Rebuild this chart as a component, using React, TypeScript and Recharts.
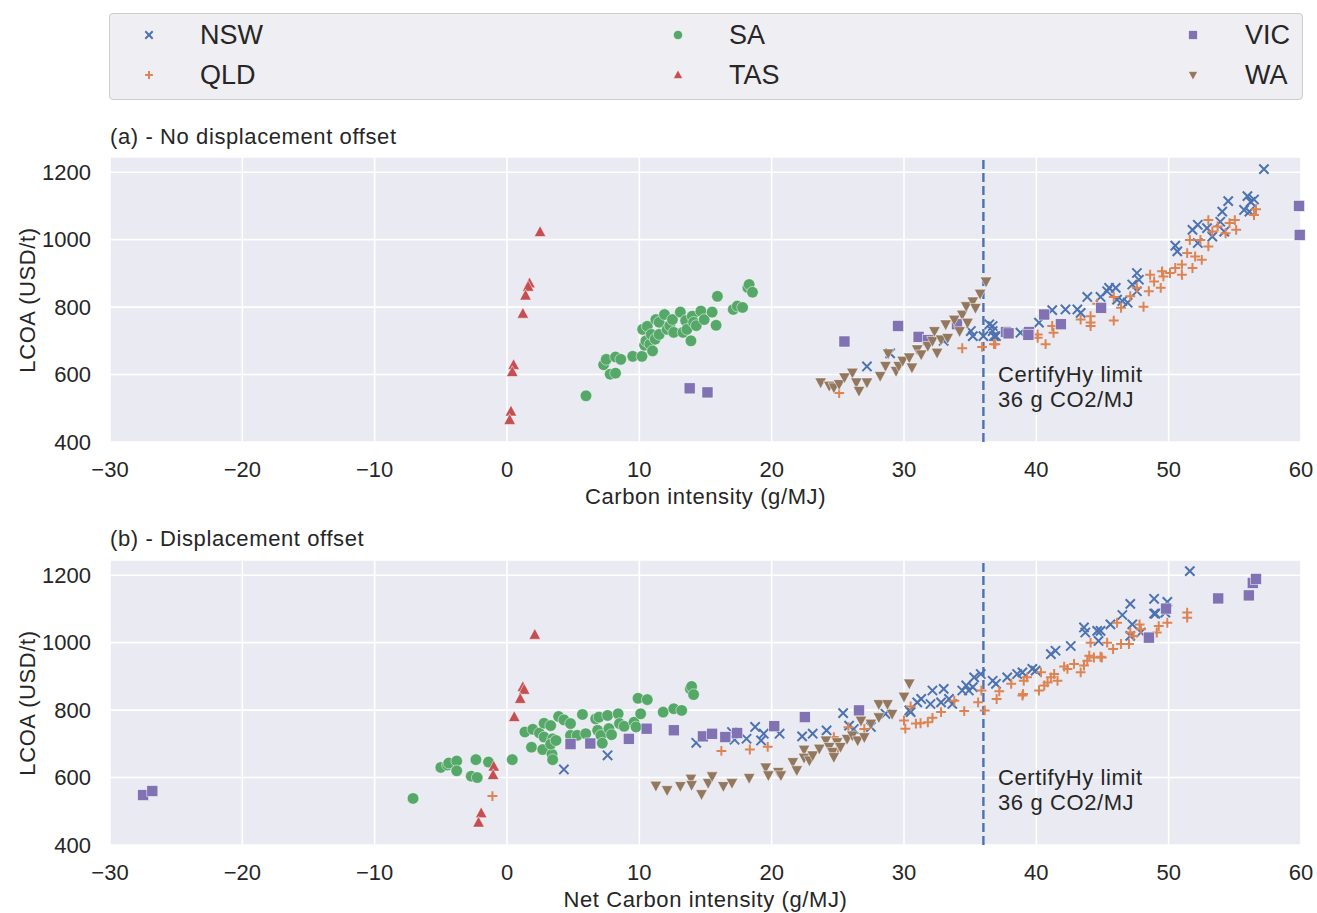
import React from 'react';
import { ScatterChart, Scatter, XAxis, YAxis, CartesianGrid, ReferenceLine } from 'recharts';

// state -> [carbon intensity (g/MJ), LCOA (USD/t)]
type Pt = [number, number];

const NSW_A: Pt[] = [
  [27.2, 624], [28.95, 663], [33.0, 700], [35.05, 729], [35.2, 714], [36.0, 714], [36.45, 749], [36.7, 729],
  [36.95, 714], [36.7, 744], [36.8, 714], [38.8, 724], [40.2, 754], [41.2, 791], [42.2, 793], [43.1, 793],
  [43.35, 783], [43.85, 830], [44.85, 830], [45.35, 847], [45.5, 857], [46.0, 857], [46.1, 822], [46.5, 818],
  [46.9, 813], [47.25, 867], [47.6, 901], [47.75, 881], [47.6, 847], [50.5, 982], [50.65, 965], [51.8, 1029],
  [52.2, 1044], [52.2, 990], [52.9, 1034], [53.3, 1009], [53.9, 1053], [54.05, 1083], [54.2, 1024], [54.5, 1114],
  [55.7, 1088], [55.95, 1129], [56.2, 1112], [56.1, 1083], [56.45, 1119], [57.2, 1209],
];
const QLD_A: Pt[] = [
  [25.1, 545], [34.4, 678], [35.9, 682], [36.8, 690], [36.9, 690], [40.1, 719], [40.1, 709], [40.7, 690],
  [41.2, 744], [41.3, 724], [43.35, 763], [44.1, 773], [44.1, 754], [44.1, 744], [44.6, 810], [45.85, 760],
  [45.85, 830], [46.4, 798], [47.1, 832], [47.6, 857], [48.1, 801], [48.5, 847], [48.6, 896], [48.9, 876],
  [49.4, 857], [49.5, 906], [49.6, 891], [50.1, 901], [50.5, 916], [51.0, 896], [51.0, 926], [51.4, 960],
  [51.6, 999], [51.8, 916], [52.0, 950], [52.4, 999], [52.5, 940], [53.0, 1058], [53.0, 980], [53.3, 1024],
  [53.7, 1039], [54.3, 1019], [54.6, 1049], [55.0, 1058], [55.1, 1029], [56.45, 1073], [56.6, 1090],
];
const SA_A: Pt[] = [
  [5.97, 537], [7.3, 629], [7.5, 645], [7.8, 601], [8.2, 604], [8.2, 652], [8.6, 645], [9.5, 654],
  [10.2, 654], [10.25, 734], [10.4, 687], [10.5, 700], [10.6, 743], [10.8, 690], [10.9, 719], [11.0, 670],
  [11.2, 705], [11.25, 763], [11.5, 755], [11.5, 719], [11.9, 778], [12.1, 734], [12.3, 745], [12.5, 763],
  [12.6, 725], [13.1, 785], [13.3, 725], [13.5, 760], [13.6, 734], [13.9, 700], [14.0, 773], [14.1, 755],
  [14.3, 745], [14.65, 788], [14.9, 763], [15.5, 785], [15.8, 746], [15.9, 832], [17.1, 793], [17.4, 803],
  [17.8, 799], [18.2, 858], [18.3, 867], [18.55, 844],
];
const TAS_A: Pt[] = [
  [2.5, 1022], [1.7, 870], [1.6, 860], [1.4, 834], [1.2, 780], [0.5, 628], [0.4, 607], [0.3, 490], [0.2, 465],
];
const VIC_A: Pt[] = [
  [13.8, 559], [15.15, 547], [25.5, 698], [29.55, 744], [31.1, 712], [31.8, 702], [34.0, 749], [37.7, 726],
  [37.9, 722], [39.45, 726], [39.4, 718], [40.6, 778], [41.85, 749], [44.9, 798], [59.85, 1100], [59.9, 1014],
];
const WA_A: Pt[] = [
  [23.7, 577], [24.35, 567], [24.7, 562], [25.1, 572], [25.5, 592], [26.1, 606], [26.4, 577], [26.6, 552],
  [27.2, 577], [28.2, 596], [28.6, 626], [28.8, 663], [29.4, 611], [29.6, 626], [29.9, 641], [30.4, 651],
  [30.6, 621], [31.0, 675], [31.3, 660], [31.8, 685], [32.15, 700], [32.3, 729], [32.5, 665], [32.8, 704],
  [33.15, 749], [33.3, 709], [33.8, 763], [34.2, 729], [34.4, 778], [34.7, 803], [34.8, 754], [35.2, 817],
  [35.4, 798], [35.75, 840], [36.2, 876],
];

const NSW_B: Pt[] = [
  [4.3, 624], [7.6, 666], [14.3, 703], [17.0, 735], [17.2, 712], [18.1, 715], [18.75, 750], [19.2, 710],
  [19.4, 730], [20.6, 730], [22.3, 722], [23.1, 730], [24.15, 740], [25.4, 791], [25.85, 754], [26.2, 744],
  [27.5, 750], [28.6, 789], [30.4, 799], [30.5, 794], [31.0, 823], [31.3, 833], [32.0, 818], [32.15, 858],
  [32.8, 823], [33.0, 863], [33.4, 833], [33.65, 818], [34.4, 858], [34.7, 873], [34.9, 858], [35.2, 868],
  [35.3, 897], [35.8, 907], [36.7, 887], [36.95, 878], [37.8, 897], [38.55, 907], [38.95, 912], [39.7, 922],
  [39.95, 917], [41.1, 966], [41.45, 976], [42.6, 990], [43.6, 1045], [43.7, 1030], [44.6, 1035], [44.85, 1035],
  [44.7, 1005], [45.6, 1054], [46.5, 1082], [47.1, 1115], [47.25, 1054], [47.1, 1020], [47.9, 1030], [48.9, 1130],
  [48.9, 1086], [49.0, 1086], [49.9, 1121], [49.75, 1089], [51.6, 1212],
];
const QLD_B: Pt[] = [
  [-1.1, 545], [16.2, 679], [18.35, 683], [19.7, 691], [24.7, 720], [25.0, 686], [25.8, 749], [27.0, 744],
  [30.0, 769], [30.1, 745], [30.5, 811], [30.9, 760], [31.25, 761], [31.8, 764], [32.15, 777], [32.8, 794],
  [33.8, 828], [34.55, 797], [35.6, 823], [35.85, 858], [36.1, 799], [37.0, 833], [37.2, 856], [38.1, 878],
  [38.95, 843], [39.0, 848], [39.05, 887], [39.3, 897], [40.35, 912], [40.2, 858], [40.6, 873], [40.85, 882],
  [41.1, 897], [41.35, 907], [41.6, 887], [42.1, 929], [42.35, 922], [42.85, 937], [43.35, 912], [43.6, 932],
  [43.85, 946], [44.0, 961], [44.35, 956], [44.85, 958], [44.95, 956], [44.1, 1000], [45.35, 1000], [45.8, 981],
  [46.4, 996], [47.0, 996], [46.1, 1059], [47.1, 1030], [47.35, 1020], [47.8, 1054], [47.9, 1040], [49.1, 1030],
  [49.25, 1049], [49.9, 1059], [51.4, 1089], [51.4, 1074],
];
const SA_B: Pt[] = [
  [-7.1, 538], [-5.0, 630], [-4.5, 637], [-4.4, 643], [-3.8, 649], [-3.8, 620], [-2.7, 604], [-2.25, 600],
  [-2.35, 653], [-1.4, 646], [0.4, 653], [1.35, 735], [1.95, 743], [1.85, 690], [2.45, 732], [2.7, 683],
  [2.8, 720], [2.8, 761], [3.3, 754], [3.45, 715], [3.4, 669], [3.45, 653], [3.3, 699], [3.7, 710],
  [3.9, 781], [4.3, 771], [4.8, 760], [4.8, 725], [5.3, 725], [5.7, 787], [5.95, 730], [6.7, 774],
  [6.95, 779], [6.85, 740], [7.1, 725], [7.2, 702], [7.6, 784], [7.7, 745], [7.9, 727], [8.4, 789],
  [8.5, 760], [8.85, 752], [9.6, 764], [9.75, 750], [9.9, 835], [10.1, 789], [10.6, 831], [11.8, 794],
  [12.6, 804], [13.2, 799], [13.85, 863], [13.95, 870], [14.1, 846],
];
const TAS_B: Pt[] = [
  [2.1, 1023], [1.2, 868], [1.3, 860], [1.0, 833], [0.55, 779], [-1.0, 632], [-1.05, 607], [-1.95, 494], [-2.15, 466],
];
const VIC_B: Pt[] = [
  [-27.5, 548], [-26.8, 560], [4.8, 699], [6.3, 701], [9.2, 715], [10.55, 745], [12.6, 740], [14.8, 722],
  [15.5, 730], [16.5, 720], [17.4, 732], [20.2, 752], [22.5, 779], [26.6, 799], [48.5, 1015], [49.8, 1101],
  [53.75, 1131], [56.05, 1140], [56.35, 1177], [56.6, 1189],
];
const WA_B: Pt[] = [
  [11.25, 576], [12.1, 563], [13.1, 575], [13.9, 597], [13.95, 578], [14.7, 551], [15.2, 584], [15.5, 604],
  [16.35, 575], [17.0, 584], [18.3, 599], [19.55, 630], [19.75, 607], [20.5, 617], [20.7, 607], [21.6, 646],
  [21.9, 622], [22.45, 683], [22.45, 659], [22.85, 651], [23.1, 666], [23.6, 686], [24.1, 710], [24.35, 691],
  [24.6, 676], [24.7, 661], [24.95, 705], [25.2, 691], [25.7, 715], [26.1, 725], [26.5, 710], [26.75, 769],
  [27.0, 720], [27.5, 760], [28.1, 779], [28.1, 818], [28.75, 818], [29.1, 789], [30.0, 840], [30.4, 879],
];

const X_TICKS = [-30, -20, -10, 0, 10, 20, 30, 40, 50, 60];
const Y_TICKS = [400, 600, 800, 1000, 1200];
const LIMIT = 36;

const FONT = '"Liberation Sans", Arial, sans-serif';
const INK = '#262626';

type Kind = 'x' | 'plus' | 'circle' | 'triUp' | 'square' | 'triDown';

const STATES: { name: string; kind: Kind; color: string }[] = [
  { name: 'NSW', kind: 'x', color: '#4C72B0' },
  { name: 'QLD', kind: 'plus', color: '#DD8452' },
  { name: 'SA', kind: 'circle', color: '#55A868' },
  { name: 'TAS', kind: 'triUp', color: '#C44E52' },
  { name: 'VIC', kind: 'square', color: '#8172B3' },
  { name: 'WA', kind: 'triDown', color: '#937860' },
];

const toRows = (pts: Pt[]) => pts.map(([x, y]) => ({ x, y }));

const Mark = ({ kind, cx, cy, color, s }: { kind: Kind; cx: number; cy: number; color: string; s: number }) => {
  switch (kind) {
    case 'x':
      return <path d={`M${cx - s * 0.8},${cy - s * 0.8}L${cx + s * 0.8},${cy + s * 0.8}M${cx - s * 0.8},${cy + s * 0.8}L${cx + s * 0.8},${cy - s * 0.8}`} stroke={color} strokeWidth={2} fill="none" />;
    case 'plus':
      return <path d={`M${cx - s * 0.85},${cy}L${cx + s * 0.85},${cy}M${cx},${cy - s * 0.85}L${cx},${cy + s * 0.85}`} stroke={color} strokeWidth={2} fill="none" />;
    case 'circle':
      return <circle cx={cx} cy={cy} r={s} fill={color} stroke="#fff" strokeWidth={0.5} />;
    case 'square':
      return <rect x={cx - s * 0.95} y={cy - s * 0.95} width={s * 1.9} height={s * 1.9} fill={color} stroke="#fff" strokeWidth={0.5} />;
    case 'triUp':
      return <polygon points={`${cx},${cy - s * 1.1} ${cx - s},${cy + s * 0.75} ${cx + s},${cy + s * 0.75}`} fill={color} stroke="#fff" strokeWidth={0.5} />;
    default:
      return <polygon points={`${cx},${cy + s * 1.1} ${cx - s},${cy - s * 0.75} ${cx + s},${cy - s * 0.75}`} fill={color} stroke="#fff" strokeWidth={0.5} />;
  }
};

const minus = (v: number) => String(v).replace('-', '\u2212');

const Panel = ({ top, sets, xLabel }: { top: number; sets: Pt[][]; xLabel: string }) => (
  <div style={{ position: 'absolute', left: 0, top }}>
    <ScatterChart width={1317} height={510} margin={{ top: 157, right: 16, bottom: 6, left: 20 }}>
      <CartesianGrid fill="#EAEAF2" stroke="#FFFFFF" strokeWidth={1.6} />
      <XAxis
        type="number"
        dataKey="x"
        domain={[-30, 60]}
        ticks={X_TICKS}
        tickFormatter={minus}
        axisLine={false}
        tickLine={false}
        tickSize={0}
        tickMargin={19}
        height={62}
        tick={{ fill: INK, fontSize: 22, fontFamily: FONT }}
        label={{ value: xLabel, position: 'insideBottom', offset: 0, fill: INK, fontSize: 22, fontFamily: FONT, letterSpacing: 0.6 }}
      />
      <YAxis
        type="number"
        dataKey="y"
        domain={[400, 1245]}
        ticks={Y_TICKS}
        axisLine={false}
        tickLine={false}
        tickSize={0}
        tickMargin={19}
        width={90}
        tick={{ fill: INK, fontSize: 22, fontFamily: FONT }}
      />
      {STATES.map((st, i) => (
        <Scatter
          key={st.name}
          name={st.name}
          data={toRows(sets[i])}
          isAnimationActive={false}
          shape={(p: any) => <Mark kind={st.kind} cx={p.cx} cy={p.cy} color={st.color} s={5.8} />}
        />
      ))}
      <ReferenceLine x={LIMIT} stroke="#4C72B0" strokeWidth={2.4} strokeDasharray="9 4" />
    </ScatterChart>
  </div>
);

const Text = ({ left, top, size, children, lh, ls }: { left: number; top: number; size: number; lh?: number; ls?: number; children: React.ReactNode }) => (
  <div style={{ position: 'absolute', left, top, fontSize: size, lineHeight: `${lh ?? size}px`, letterSpacing: ls ?? 0, whiteSpace: 'nowrap' }}>{children}</div>
);

const YLabel = ({ cy }: { cy: number }) => (
  <div
    style={{
      position: 'absolute', left: 28 - 150, top: cy - 13, width: 300, height: 26, lineHeight: '26px',
      fontSize: 22, letterSpacing: 0.6, textAlign: 'center', transform: 'rotate(-90deg)', whiteSpace: 'nowrap',
    }}
  >
    LCOA (USD/t)
  </div>
);

const LEGEND_POS = [
  { mx: 149, tx: 200, cy: 35 },
  { mx: 149, tx: 200, cy: 75 },
  { mx: 678, tx: 729, cy: 35 },
  { mx: 678, tx: 729, cy: 75 },
  { mx: 1193, tx: 1245, cy: 35 },
  { mx: 1193, tx: 1245, cy: 75 },
];

export default function App() {
  return (
    <div style={{ position: 'absolute', left: 0, top: 0, width: 1317, height: 913, overflow: 'hidden', background: '#fff', fontFamily: FONT, color: INK }}>
      {/* legend */}
      <div style={{ position: 'absolute', left: 109, top: 13, width: 1192, height: 85, background: '#EEEEF3', border: '1px solid #CCCCCC', borderRadius: 4 }} />
      {STATES.map((st, i) => {
        const p = LEGEND_POS[i];
        return (
          <React.Fragment key={st.name}>
            <svg style={{ position: 'absolute', left: p.mx - 8, top: p.cy - 8 }} width={16} height={16}>
              <Mark kind={st.kind} cx={8} cy={8} color={st.color} s={4.6} />
            </svg>
            <Text left={p.tx} top={p.cy - 14} size={27} lh={28}>{st.name}</Text>
          </React.Fragment>
        );
      })}

      <Text left={110} top={126} size={22} ls={0.6}>(a) - No displacement offset</Text>
      <Panel top={0} sets={[NSW_A, QLD_A, SA_A, TAS_A, VIC_A, WA_A]} xLabel="Carbon intensity (g/MJ)" />
      <YLabel cy={300} />
      <Text left={998} top={362} size={22} lh={25} ls={0.6}>CertifyHy limit<br />36 g CO2/MJ</Text>

      <Text left={110} top={528} size={22} ls={0.6}>(b) - Displacement offset</Text>
      <Panel top={403} sets={[NSW_B, QLD_B, SA_B, TAS_B, VIC_B, WA_B]} xLabel="Net Carbon intensity (g/MJ)" />
      <YLabel cy={703} />
      <Text left={998} top={765} size={22} lh={25} ls={0.6}>CertifyHy limit<br />36 g CO2/MJ</Text>
    </div>
  );
}
